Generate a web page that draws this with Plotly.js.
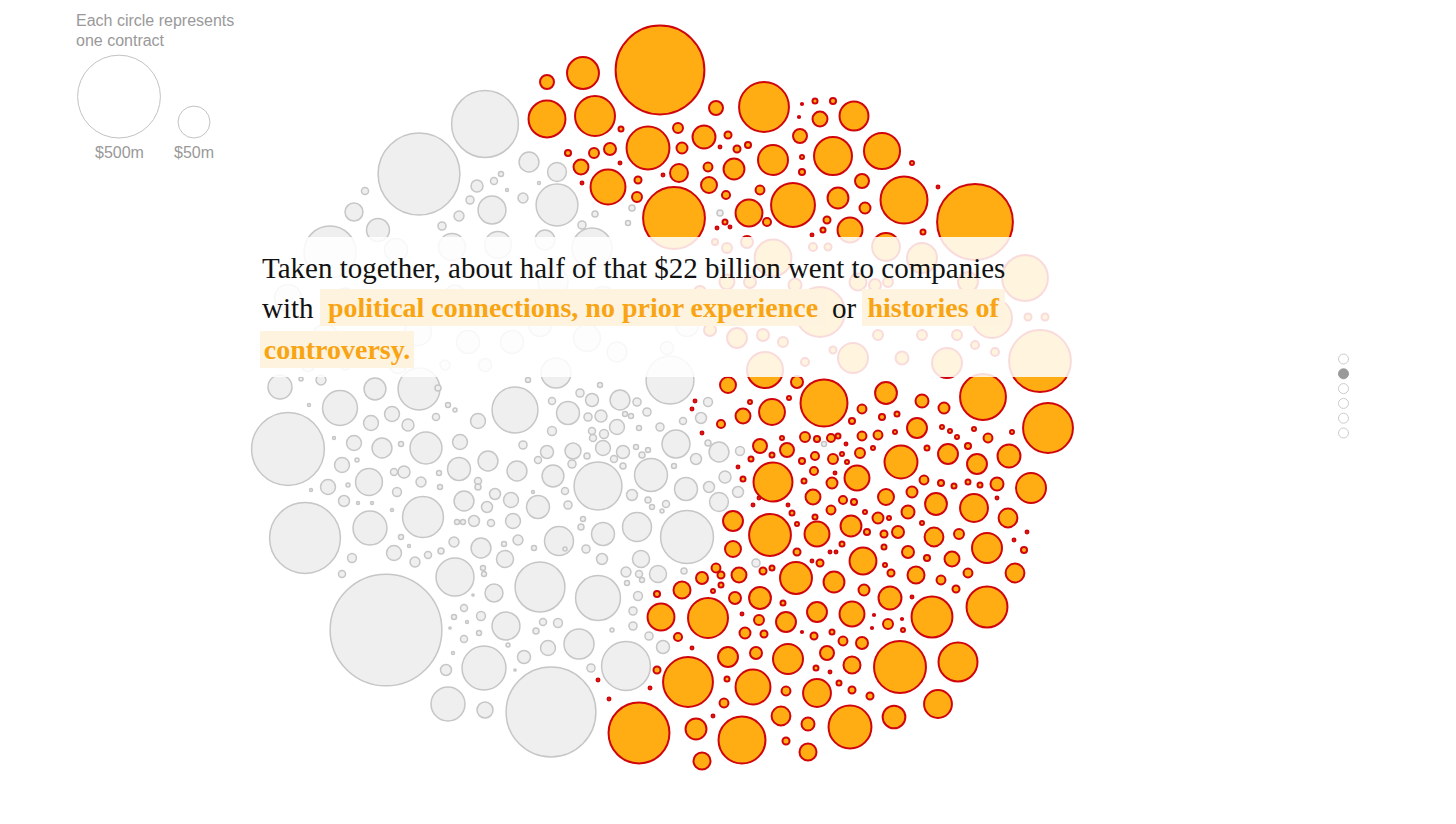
<!DOCTYPE html>
<html>
<head>
<meta charset="utf-8">
<script src="https://cdn.plot.ly/plotly-3.0.1.min.js"></script>
<style>
  html, body { margin: 0; padding: 0; background: #fff; overflow: hidden; }
  #chart { width: 1456px; height: 824px; }
</style>
</head>
<body>
<div id="chart"></div>
<script>
// Each contract: [x, y, value in $ millions]; x/y are positions in the packed layout.
const greyTop = [
  [419,174,486],[485,124,298],[354,212,12.5],[365,191,1.3],[477,186,4.7],[494,181,1.3],[501,174,0.57],
  [507,190,0.16],[470,200,1.8],[492,210,36],[459,216,3],[529,162,16],[557,172,14],[557,205,96],
  [523,198,3],[378,230,22.5],[442,226,1.8],[539,183,0.16],[720,213,0.9],[632,208,0.9],[595,214,0.9],
  [582,225,1.8],[628,223,0.57]
];
const greyUnderText = [
  [330,252,162],[396,250,22.5],[452,247,33],[498,245,33],[545,240,16],[592,248,86],[288,298,33],
  [345,298,16],[395,305,43],[455,295,16],[498,305,33],[553,282,43],[603,298,22.5],[630,272,5.7],
  [278,342,16],[325,338,33],[372,348,11],[418,332,33],[468,342,22.5],[512,342,22.5],[540,325,22.5],
  [587,338,33],[647,318,5.7],[687,325,22.5],[617,352,16],[556,373,43],[308,365,5.7],[345,365,3],
  [398,365,11],[445,365,3],[485,365,5.7],[667,348,5.7]
];
const greyMiddle = [
  [280,387,25],[321,380,3],[301,379,0.33],[375,389,20],[419,389,96],[438,388,0.9],[528,380,0.57],
  [580,393,1.8],[600,385,0.57],[670,380,133],
  [288,449,366],[305,538,343],[340,408,62],[392,414,8],[371,423,8],[408,425,4.7],[436,417,1.3],
  [448,405,0.57],[455,410,0.33],[478,421,8],[515,410,120],[354,443,8],[382,448,16],[401,444,0.57],
  [426,448,50],[460,442,8],[488,461,16],[342,465,8],[357,460,0.33],[369,482,33],[394,472,1.3],
  [404,472,4.7],[421,482,3],[439,473,0.57],[440,487,0.57],[459,469,22.5],[478,481,1.3],[478,487,0.9],
  [517,471,16],[328,487,8],[348,485,0.33],[344,501,3.8],[397,492,2.3],[464,501,16],[495,494,3.8],
  [487,507,3.8],[511,500,8],[423,517,91],[370,528,58],[401,537,0.57],[457,522,0.57],[463,522,0.57],
  [474,521,3.8],[491,523,1.3],[513,521,8],[454,542,3],[481,548,16],[504,544,0.57],[518,540,3],
  [505,559,11],[394,553,8],[415,562,3],[428,555,1.3],[441,551,0.9],[352,558,2.3],[342,574,1.3],
  [455,577,76],[483,568,0.57],[484,574,0.57],[540,587,147],
  [309,405,0.16],[334,438,0.16],[311,490,0.16],[358,503,0.16],[372,503,0.16],[392,510,0.16],[409,546,0.16],
  [552,401,1.3],[568,413,22.5],[592,400,5.7],[620,400,16],[637,402,1.8],[588,417,1.8],[601,416,4.7],
  [625,414,0.57],[631,416,0.57],[647,412,1.8],[617,427,8],[639,428,0.57],[660,427,1.8],[683,421,1.3],
  [701,418,3.8],[708,402,2.3],[552,431,2.3],[592,431,1.3],[593,438,1.3],[604,434,2.3],[523,445,1.8],
  [547,452,5.7],[573,451,9.4],[587,456,0.9],[603,448,8],[623,452,5.7],[614,459,1.3],[636,447,0.57],
  [648,450,0.57],[642,455,0.9],[676,444,36],[719,452,16],[696,459,3.8],[708,443,0.9],[740,451,2.3],
  [538,460,1.3],[553,476,20],[572,464,1.8],[598,486,133],[623,466,0.9],[651,475,54],[674,466,0.57],
  [686,489,22.5],[709,487,3.8],[725,477,4.7],[738,492,3.8],[533,492,0.16],[538,507,22.5],[565,491,1.3],
  [568,505,1.8],[632,495,3.8],[648,500,0.9],[652,507,0.57],[666,504,1.3],[662,511,0.33],[719,502,14],
  [559,541,39.5],[583,519,0.57],[581,527,0.9],[603,534,22.5],[637,527,39.5],[687,537,169],[641,559,11],
  [602,559,3.8],[586,549,1.8],[565,549,0.33],[534,548,0.57],[626,572,3],[639,574,1.3],[642,580,0.57],
  [658,574,11],[684,571,0.9],[598,598,114],[756,563,1.8],[824,444,0.57]
];
const greyBottom = [
  [386,630,1031],[494,593,12.5],[464,608,1.3],[454,617,0.57],[481,616,2.3],[467,622,0.16],[479,633,0.57],
  [464,639,1.3],[506,626,36],[453,653,0.16],[508,645,0.33],[524,657,5.7],[484,668,108],[446,670,3.8],
  [448,704,58],[485,710,9.4],[551,712,608],[450,628,0.08],[515,670,0.08],[473,595,0.08],
  [626,666,140],[579,644,43],[548,648,8],[591,668,1.8],[663,647,5.7],[649,636,1.8],[633,626,1.8],
  [633,611,1.8],[638,596,2.3],[627,583,0.57],[558,623,2.3],[543,622,1.3],[536,631,0.9],[612,630,0.33]
];

const orangeTop = [
  [660,70,592],[583,73,50],[547,82,6.8],[547,119,71],[595,116,86],[764,107,147],[716,108,6.8],
  [648,148,102],[621,129,0.57],[678,128,3],[682,148,3.8],[704,137,22.5],[728,135,1.3],[737,149,1.3],
  [748,145,0.9],[773,160,43],[800,136,6.8],[568,153,0.9],[594,153,3],[610,149,4.7],[581,167,8],
  [608,187,62],[620,163,0.16],[638,180,1.3],[637,197,3],[663,175,0.16],[679,173,12.5],[708,167,2.3],
  [709,185,9.4],[734,169,18],[726,195,1.8],[760,190,2.3],[749,213,33],[674,218,247],[793,205,108],
  [720,147,0.16],[582,183,0.16],[975,222,404],[904,200,127],[882,151,67],[833,156,76],[854,116,39.5],
  [820,119,8],[815,101,0.57],[833,101,0.9],[802,157,0.33],[802,172,0.9],[838,198,18],[862,181,6.8],
  [865,208,3.8],[912,163,0.33],[938,187,0.16],[802,104,0.08],[799,117,0.08],[725,222,0.57],[767,222,1.8],
  [717,228,0.16],[730,227,0.16],[827,220,1.3],[823,230,0.57],[850,230,27.5],[923,232,0.57],[812,235,0.16]
];
const orangeUnderText = [
  [886,247,36],[773,258,71],[813,247,1.8],[828,247,1.3],[747,242,4.7],[727,248,3],[715,242,0.9],
  [820,312,147],[858,282,11],[888,282,3],[922,258,43],[1025,278,120],[992,318,86],[947,363,43],
  [853,358,43],[1040,361,247],[902,358,5.7],[878,335,3],[922,335,3],[957,335,3],[1028,317,1.3],
  [1045,317,1.3],[975,345,1.8],[995,352,1.8],[833,350,1.3],[805,362,1.8],[875,285,4.7],[968,282,16],
  [952,302,1.8],[902,315,3],[700,292,4.7],[727,282,8],[750,282,4.7],[795,285,5.7],[710,330,4.7],
  [737,338,16],[763,335,4.7],[783,342,3],[765,370,67],[797,382,4.7],[728,385,9.4]
];
const orangeMiddle = [
  [772,412,30],[743,416,8],[721,424,1.8],[760,446,6.8],[787,450,6.8],[772,455,0.57],[751,459,0.57],
  [773,482,81],[743,479,0.57],[733,521,16],[770,535,96],[733,549,9.4],[716,568,2.3],[721,575,1.3],
  [702,578,4.7],[739,575,8],[763,571,1.3],[772,568,0.57],[796,578,50],[682,590,11],[797,552,1.3],
  [792,513,0.57],[797,524,0.33],[750,402,0.33],[789,398,0.33],[695,401,0.16],[692,409,0.16],[702,433,0.16],
  [782,438,0.33],[738,467,0.16],[753,505,0.16],[759,498,0.16],[788,505,0.16],
  [824,403,127],[886,393,20],[922,401,5.7],[944,408,3.8],[983,397,120],[1048,428,147],[862,409,2.3],
  [882,417,0.9],[897,414,0.57],[917,428,16],[852,421,0.9],[805,437,3],[817,439,0.9],[831,438,1.8],
  [838,436,0.57],[862,436,2.3],[878,435,2.3],[895,432,0.33],[942,427,0.33],[950,431,0.33],[957,437,0.33],
  [974,429,0.33],[988,438,2.3],[1012,432,0.33],[846,444,0.16],[873,448,0.33],[901,462,54],[948,454,16],
  [977,464,16],[1009,456,22.5],[968,446,0.9],[927,448,0.57],[815,456,1.8],[802,461,0.9],[833,459,3],
  [842,454,0.33],[860,453,3],[847,462,0.33],[857,478,27.5],[814,471,1.8],[835,473,0.16],[832,483,3.8],
  [804,481,0.57],[924,480,2.3],[941,483,0.9],[954,486,0.57],[968,482,0.57],[980,485,0.57],[997,484,5.7],
  [1031,488,43],[813,497,8],[843,500,1.8],[854,502,0.9],[886,497,9.4],[912,492,3.8],[936,504,20],
  [974,508,36],[997,498,0.16],[831,510,2.3],[815,517,0.57],[865,512,0.33],[878,518,3.8],[908,512,5.7],
  [889,518,0.33],[1008,518,14],[851,526,18],[817,534,27.5],[867,532,0.9],[884,534,1.3],[898,532,4.7],
  [922,523,0.33],[934,537,14],[959,534,3],[987,548,43],[1027,532,0.16],[1014,540,0.16],[842,544,0.57],
  [884,547,0.57],[908,552,4.7],[830,552,0.16],[836,552,0.16],[863,561,33],[820,563,1.3],[812,561,0.16],
  [952,559,8],[927,558,0.9],[1024,550,0.9],[834,582,18],[891,573,1.3],[916,575,11],[941,580,2.3],
  [968,573,2.3],[1015,573,14],[885,565,0.33]
];
const orangeBottom = [
  [661,617,33],[708,618,86],[735,598,4.7],[760,598,20],[783,603,0.57],[742,614,0.16],[759,620,3],
  [786,622,16],[678,637,1.8],[745,633,3.8],[764,634,1.3],[728,657,16],[756,653,4.7],[788,659,43],
  [692,648,0.16],[688,682,147],[657,670,1.3],[727,679,0.57],[753,687,62],[786,691,2.3],[724,703,2.3],
  [598,680,0.16],[609,699,0.16],[650,688,0.16],[713,716,0.16],[639,733,238],[696,729,18],[742,740,127],
  [781,716,14],[786,741,1.3],[702,761,11],[721,585,0.57],[713,591,0.33],[657,594,0.9],
  [864,590,3.8],[890,598,22.5],[956,589,1.3],[987,607,91],[932,617,91],[817,612,16],[852,614,27.5],
  [888,624,3],[874,615,0.08],[902,619,0.08],[912,597,0.16],[903,630,0.33],[872,628,0.08],[814,636,1.3],
  [832,632,0.57],[802,632,0.08],[843,641,2.3],[862,643,4.7],[827,653,6.8],[900,667,162],[958,662,81],
  [852,665,11],[816,668,0.57],[830,672,0.16],[817,693,36],[839,683,0.57],[852,690,1.3],[870,696,1.3],
  [938,704,36],[850,727,102],[894,717,22],[808,724,5.7],[808,752,11]
];

// Key values shown in the size legend ($ millions)
const legendValues = [500, 50];
const legendLabels = ['$500m', '$50m'];

// Circle diameter in px for a contract value in $ millions
const sizeFor = v => 6.32 * Math.pow(v, 0.414);

const grey = [].concat(greyTop, greyUnderText, greyMiddle, greyBottom);
const orange = [].concat(orangeTop, orangeUnderText, orangeMiddle, orangeBottom);

function bubbleTrace(list, fill, stroke, lw) {
  return {
    type: 'scatter', mode: 'markers', hoverinfo: 'skip', showlegend: false,
    x: list.map(d => d[0]), y: list.map(d => d[1]),
    marker: {
      size: list.map(d => sizeFor(d[2])), sizemode: 'diameter',
      color: fill, opacity: 1, line: { color: stroke, width: lw }
    }
  };
}

// Legend circles sit on a common baseline
const legendX = [119, 194];
const legendBase = 138;
const legendTrace = {
  type: 'scatter', mode: 'markers', hoverinfo: 'skip', showlegend: false,
  x: legendX, y: legendValues.map(v => legendBase - sizeFor(v) / 2),
  marker: { size: legendValues.map(sizeFor), color: '#ffffff', line: { color: '#aaaaaa', width: 1 } }
};

const serif = 'Liberation Serif, Times New Roman, serif';
const sans = 'Liberation Sans, Arial, sans-serif';
const ink = '#121212';
const accent = '#f8a413';
const highlight = '#fef3df';

const annotations = [
  { x: 74, y: 20, text: 'Each circle represents', xanchor: 'left', yanchor: 'middle',
    font: { family: sans, size: 16, color: '#999999' } },
  { x: 74, y: 40, text: 'one contract', xanchor: 'left', yanchor: 'middle',
    font: { family: sans, size: 16, color: '#999999' } },
  // narrative text
  { x: 260, y: 268, text: 'Taken together, about half of that $22 billion went to companies',
    xanchor: 'left', yanchor: 'middle', font: { family: serif, size: 29, color: ink } },
  { x: 260, y: 307.5, text: 'with', xanchor: 'left', yanchor: 'middle',
    font: { family: serif, size: 29, color: ink } },
  { x: 320, y: 307.5, text: '<b>political connections, no prior experience</b>', xanchor: 'left', yanchor: 'middle',
    width: 500, borderpad: 3, borderwidth: 0, bgcolor: highlight,
    font: { family: serif, size: 28, color: accent } },
  { x: 830, y: 307.5, text: 'or', xanchor: 'left', yanchor: 'middle',
    font: { family: serif, size: 29, color: ink } },
  { x: 862, y: 307.5, text: '<b>histories of</b>', xanchor: 'left', yanchor: 'middle',
    width: 137, borderpad: 3, borderwidth: 0, bgcolor: highlight,
    font: { family: serif, size: 28, color: accent } },
  { x: 260, y: 349, text: '<b>controversy.</b>', xanchor: 'left', yanchor: 'middle',
    width: 148, borderpad: 3, borderwidth: 0, bgcolor: highlight,
    font: { family: serif, size: 28, color: accent } }
];
legendLabels.forEach((t, i) => annotations.push({
  x: legendX[i], y: 152, text: t, xanchor: 'center', yanchor: 'middle',
  font: { family: sans, size: 16, color: '#999999' }
}));
annotations.forEach(a => { a.showarrow = false; a.xref = 'x'; a.yref = 'y'; });

const shapes = [
  // white veil behind the narrative text
  { type: 'rect', xref: 'x', yref: 'y', x0: 200, x1: 1110, y0: 237, y1: 377,
    fillcolor: 'rgba(255,255,255,0.86)', line: { width: 0 }, layer: 'above' }
];
// step navigation dots
const navCount = 6, navActive = 1;
for (let i = 0; i < navCount; i++) {
  const cy = 359 + i * 14.8;
  shapes.push({
    type: 'circle', xref: 'x', yref: 'y', x0: 1338.5, x1: 1348.5, y0: cy - 5, y1: cy + 5,
    fillcolor: i === navActive ? '#999999' : '#ffffff',
    line: { color: i === navActive ? '#999999' : '#cccccc', width: 1 }, layer: 'above'
  });
}

const layout = {
  width: 1456, height: 824,
  margin: { l: 0, r: 0, t: 0, b: 0 },
  paper_bgcolor: '#ffffff', plot_bgcolor: '#ffffff',
  xaxis: { range: [0, 1456], visible: false, fixedrange: true },
  yaxis: { range: [824, 0], visible: false, fixedrange: true },
  showlegend: false,
  annotations: annotations,
  shapes: shapes
};

Plotly.newPlot('chart', [
  bubbleTrace(grey, '#efefef', '#c6c6c6', 1.5),
  bubbleTrace(orange, '#ffad12', '#d0050c', 2),
  legendTrace
], layout, { staticPlot: true, displayModeBar: false });
</script>
</body>
</html>
